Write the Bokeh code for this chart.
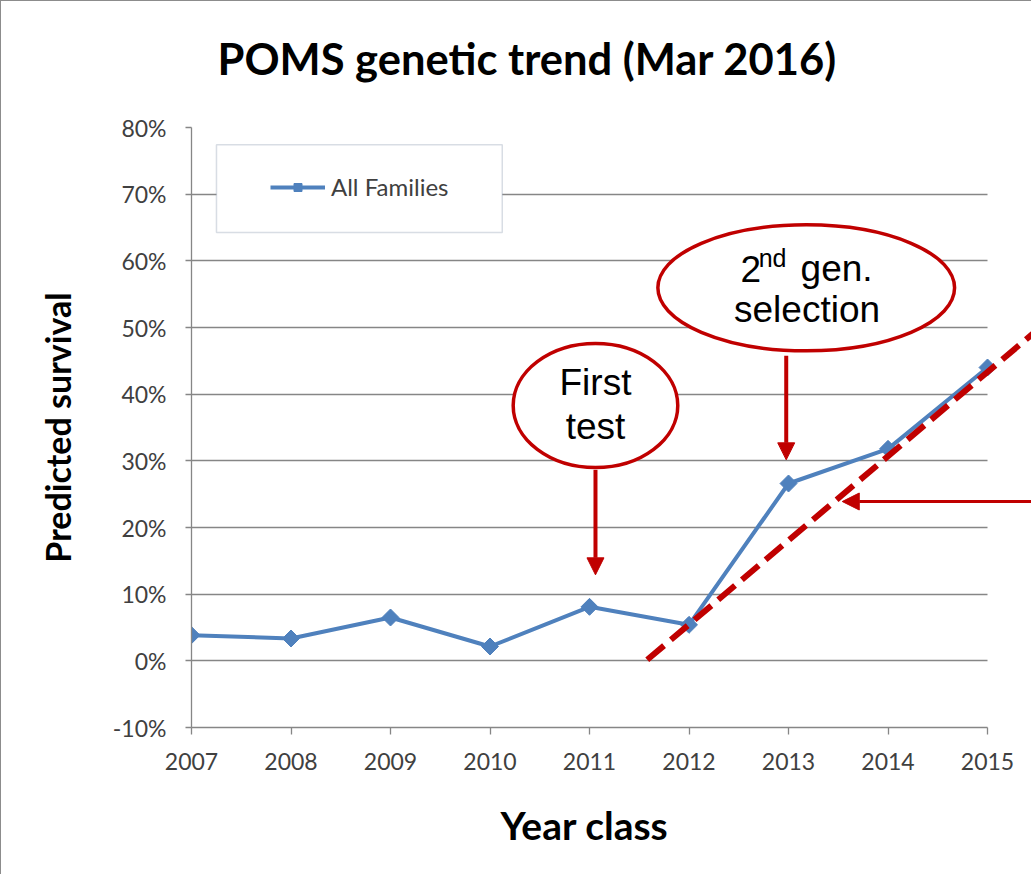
from bokeh.plotting import figure
from bokeh.models import (Range1d, FixedTicker, Label, Arrow, NormalHead,
                          BoxAnnotation, Legend, LegendItem, Title)
from bokeh.embed import file_html
from bokeh.resources import INLINE
import math

# ---------------- data ----------------
years = [2007, 2008, 2009, 2010, 2011, 2012, 2013, 2014, 2015]
year_labels = ["2007", "2008", "2009", "2010", "2011", "2012", "2013", "2014", "2015"]
survival_pct = [3.85, 3.35, 6.5, 2.15, 8.1, 5.4, 26.6, 31.8, 44.0]
y_ticks = [-10, 0, 10, 20, 30, 40, 50, 60, 70, 80]
y_tick_labels = ["-10%", "0%", "10%", "20%", "30%", "40%", "50%", "60%", "70%", "80%"]
trend_x = [2011.58, 2015.6]
trend_y = [0.15, 50.9]
series_name = "All Families"
chart_title = "POMS genetic trend (Mar 2016)"
x_title = "Year class"
y_title = "Predicted survival"

RED = "#C00000"
BLUE = "#4F81BD"
GRAY = "#868686"

p = figure(width=1031, height=874, output_backend="svg", toolbar_location=None,
           x_range=Range1d(2007, 2015.452), y_range=Range1d(-10, 80),
           min_border_left=190, min_border_right=0, min_border_top=126,
           min_border_bottom=148, outline_line_color=None,
           background_fill_color="white", border_fill_color="white")
p.styles = {"border-left": "1px solid #8c8c8c", "border-top": "1px solid #8c8c8c"}
p.title.text = ""

# title (a thin spacer sits between it and the plot area)
p.add_layout(Title(text=" ", text_font_size="1px", standoff=41), "above")
p.add_layout(Title(text=chart_title, align="left", offset=26, standoff=0,
                   text_font="Lato", text_font_style="bold", text_font_size="43.5px",
                   text_color="black"), "above")

# axes
xa = p.xaxis[0]
xa.ticker = FixedTicker(ticks=years)
xa.major_label_overrides = {y: l for y, l in zip(years, year_labels)}
xa.bounds = (years[0], years[-1])
ya = p.yaxis[0]
ya.ticker = FixedTicker(ticks=y_ticks)
ya.major_label_overrides = {t: l for t, l in zip(y_ticks, y_tick_labels)}
ya.bounds = (y_ticks[0], y_ticks[-1])
ya.axis_label = y_title
for ax in (xa, ya):
    ax.axis_line_color = GRAY
    ax.axis_line_width = 1.3
    ax.major_tick_line_color = GRAY
    ax.major_tick_line_width = 1.3
    ax.major_tick_in = 0
    ax.minor_tick_line_color = None
    ax.major_label_text_font = "Lato"
    ax.major_label_text_font_size = "23px"
    ax.major_label_text_color = "#404040"
    ax.axis_label_text_font = "Lato"
    ax.axis_label_text_font_style = "bold"
    ax.axis_label_text_color = "black"
xa.major_tick_out = 7
xa.major_label_standoff = 18
ya.major_tick_out = 6
ya.major_label_standoff = 19
ya.axis_label_text_font_size = "34px"
ya.axis_label_standoff = 32

# x-axis title, left-aligned so it sits centred under the 2007-2015 span
p.add_layout(Title(text=" ", text_font_size="1px", standoff=24), "below")
p.add_layout(Title(text=x_title, align="left", offset=309, standoff=0,
                   text_font="Lato", text_font_style="bold", text_font_size="39px",
                   text_color="black"), "below")

p.xgrid.visible = False
p.ygrid.ticker = FixedTicker(ticks=y_ticks)
p.ygrid.grid_line_color = GRAY
p.ygrid.grid_line_width = 1.3
p.ygrid.cross_bounds = (years[0], years[-1])

# series
line_r = p.line(years, survival_pct, line_color=BLUE, line_width=4)
mark_r = p.scatter(years, survival_pct, marker="square", size=12, angle=math.pi / 4,
                   fill_color=BLUE, line_color=BLUE)

# trend line
p.line(trend_x, trend_y, line_color=RED, line_width=6, line_dash="22 9")

# callout ellipses
p.ellipse(x=[2011.06], y=[38.3], width=[1.654], height=[18.6],
          fill_color="white", line_color=RED, line_width=3.5)
p.ellipse(x=[2013.178], y=[55.95], width=[2.982], height=[18.9],
          fill_color="white", line_color=RED, line_width=3.5)

def lab(x, y, t, size="37px", align="center"):
    p.add_layout(Label(x=x, y=y, text=t, text_font="Liberation Sans",
                       text_font_size=size, text_align=align,
                       text_baseline="alphabetic", text_color="black"))

lab(2011.06, 41.7, "First")
lab(2011.06, 35.2, "test")
lab(2012.518, 58.8, "2", align="left")
lab(2012.700, 60.45, "nd", size="25px", align="left")
lab(2013.121, 58.8, "gen.", align="left")
lab(2013.186, 52.65, "selection")

# arrows
def arr(x0, y0, x1, y1, w):
    p.add_layout(Arrow(end=NormalHead(size=17, fill_color=RED, line_color=RED),
                       x_start=x0, y_start=y0, x_end=x1, y_end=y1,
                       line_color=RED, line_width=w))

arr(2011.06, 28.65, 2011.06, 12.9, 4)
arr(2012.977, 45.75, 2012.977, 30.15, 4)
arr(2015.6, 23.9, 2013.54, 23.9, 3)

# legend
p.add_layout(BoxAnnotation(left=2007.251, right=2010.123, top=77.4, bottom=64.25,
                           fill_color="white", fill_alpha=1.0,
                           line_color="#7F8FA6", line_width=1.5))
legend = Legend(items=[LegendItem(label=series_name, renderers=[line_r, mark_r])],
                location=(79, 526), padding=0, margin=0, border_line_alpha=0,
                background_fill_alpha=0, glyph_width=55, glyph_height=20,
                label_standoff=6, label_text_font="Lato", label_text_font_size="24px",
                label_text_color="#404040")
p.add_layout(legend)

open("out.html", "w").write(file_html(p, INLINE))
